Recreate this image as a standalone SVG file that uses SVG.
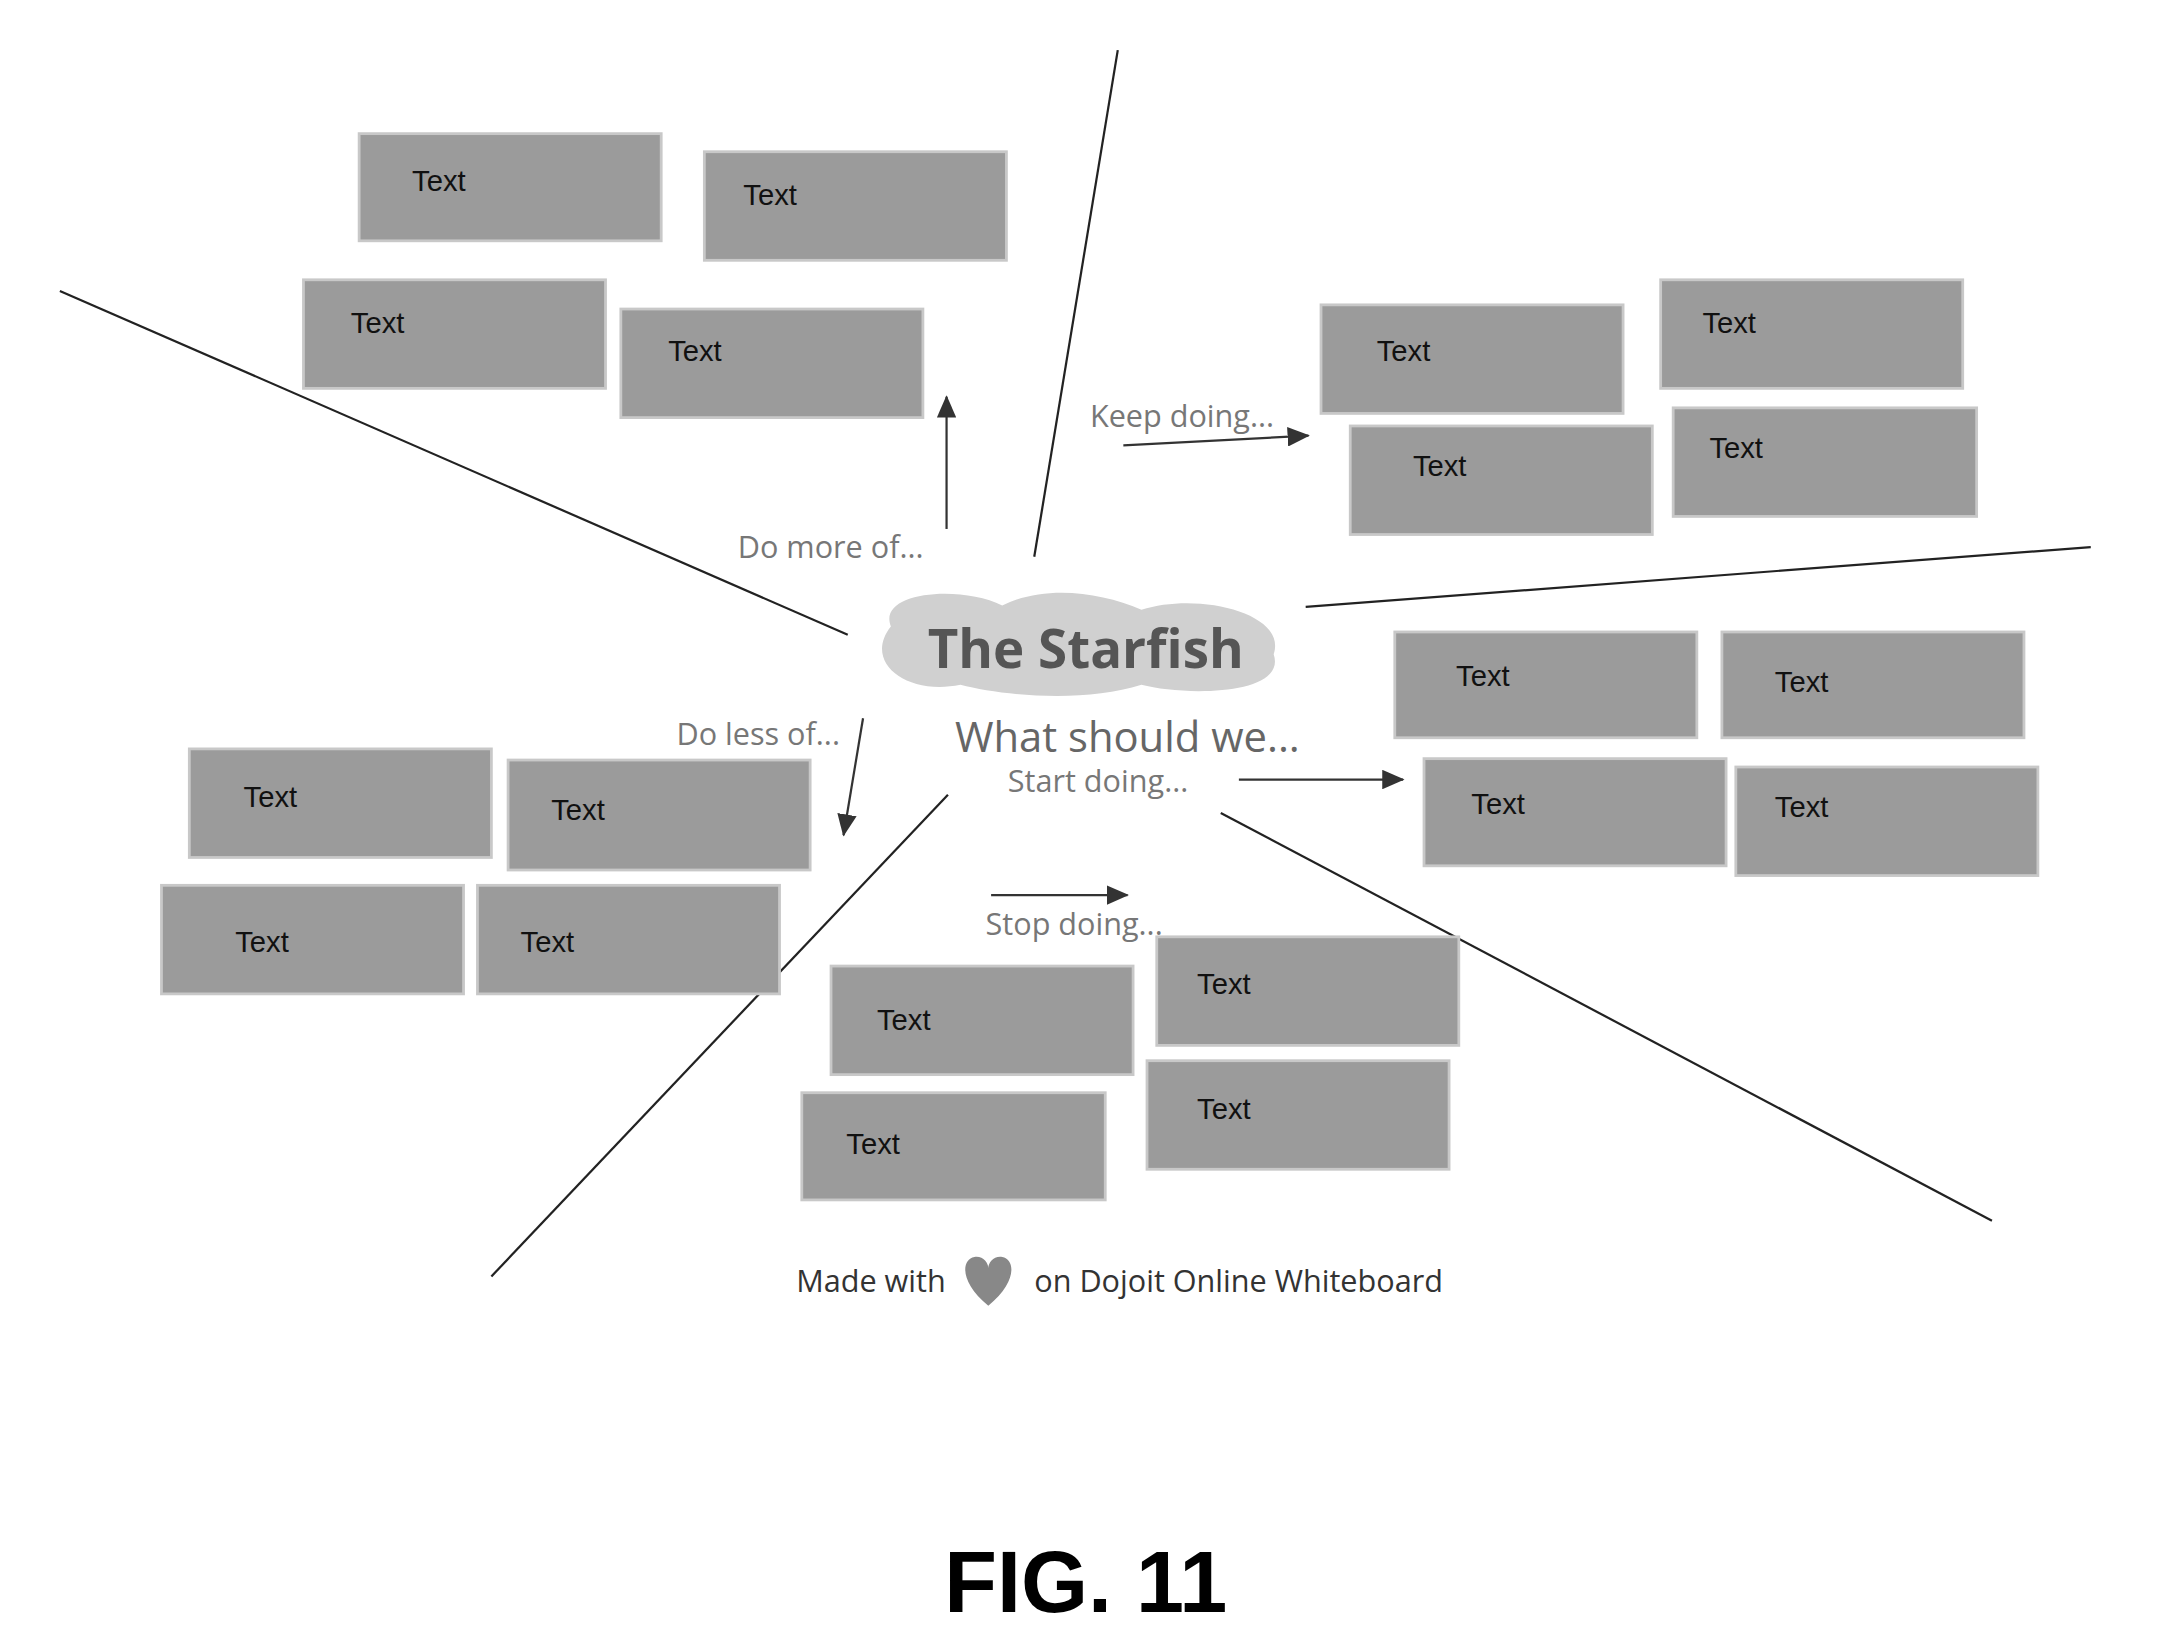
<svg xmlns="http://www.w3.org/2000/svg" width="2181" height="1637" viewBox="0 0 2181 1637">
<style>
.b{fill:#9b9b9b;stroke:#c8c8c8;stroke-width:2}
.t{font-family:"Liberation Sans",sans-serif;font-size:21px;fill:#111}
.l{stroke:#222;stroke-width:1.6;fill:none}
.a{stroke:#333;stroke-width:1.6;fill:none;marker-end:url(#ah)}
.h{font-family:"Open Sans",sans-serif;font-size:22px;fill:#777}
</style>
<defs><marker id="ah" markerWidth="16" markerHeight="14" refX="15" refY="7" orient="auto" markerUnits="userSpaceOnUse" viewBox="0 0 16 14"><path d="M0,0L16,7L0,14z" fill="#333"/></marker></defs>
<rect width="2181" height="1637" fill="#fff"/>
<g transform="scale(1.392)">
<g id="connectors">
<line class="l" x1="803" y1="36" x2="743" y2="400"/>
<line class="l" x1="43" y1="209" x2="609" y2="456"/>
<line class="l" x1="938" y1="436" x2="1502" y2="393"/>
<line class="l" x1="877" y1="584" x2="1431" y2="877"/>
<line class="l" x1="681" y1="571" x2="353" y2="917"/>
<line class="a" x1="680" y1="380" x2="680" y2="285"/>
<line class="a" x1="807" y1="320" x2="940" y2="313"/>
<line class="a" x1="620" y1="516" x2="606" y2="600"/>
<line class="a" x1="890" y1="560" x2="1008" y2="560"/>
<line class="a" x1="712" y1="643" x2="810" y2="643"/>
</g>
<g id="n1"><rect class="b" x="258" y="96" width="217" height="77"/><text class="t" x="296" y="137">Text</text></g>
<g id="n2"><rect class="b" x="506" y="109" width="217" height="78"/><text class="t" x="534" y="147">Text</text></g>
<g id="n3"><rect class="b" x="218" y="201" width="217" height="78"/><text class="t" x="252" y="239">Text</text></g>
<g id="n4"><rect class="b" x="446" y="222" width="217" height="78"/><text class="t" x="480" y="259">Text</text></g>
<g id="n5"><rect class="b" x="949" y="219" width="217" height="78"/><text class="t" x="989" y="259">Text</text></g>
<g id="n6"><rect class="b" x="1193" y="201" width="217" height="78"/><text class="t" x="1223" y="239">Text</text></g>
<g id="n7"><rect class="b" x="970" y="306" width="217" height="78"/><text class="t" x="1015" y="342">Text</text></g>
<g id="n8"><rect class="b" x="1202" y="293" width="218" height="78"/><text class="t" x="1228" y="329">Text</text></g>
<g id="n9"><rect class="b" x="1002" y="454" width="217" height="76"/><text class="t" x="1046" y="493">Text</text></g>
<g id="n10"><rect class="b" x="1237" y="454" width="217" height="76"/><text class="t" x="1275" y="497">Text</text></g>
<g id="n11"><rect class="b" x="1023" y="545" width="217" height="77"/><text class="t" x="1057" y="585">Text</text></g>
<g id="n12"><rect class="b" x="1247" y="551" width="217" height="78"/><text class="t" x="1275" y="587">Text</text></g>
<g id="n13"><rect class="b" x="136" y="538" width="217" height="78"/><text class="t" x="175" y="580">Text</text></g>
<g id="n14"><rect class="b" x="365" y="546" width="217" height="79"/><text class="t" x="396" y="589">Text</text></g>
<g id="n15"><rect class="b" x="116" y="636" width="217" height="78"/><text class="t" x="169" y="684">Text</text></g>
<g id="n16"><rect class="b" x="343" y="636" width="217" height="78"/><text class="t" x="374" y="684">Text</text></g>
<g id="n17"><rect class="b" x="597" y="694" width="217" height="78"/><text class="t" x="630" y="740">Text</text></g>
<g id="n18"><rect class="b" x="831" y="673" width="217" height="78"/><text class="t" x="860" y="714">Text</text></g>
<g id="n19"><rect class="b" x="576" y="785" width="218" height="77"/><text class="t" x="608" y="829">Text</text></g>
<g id="n20"><rect class="b" x="824" y="762" width="217" height="78"/><text class="t" x="860" y="804">Text</text></g>
<g id="labels">
<text class="h" x="530" y="401">Do more of...</text>
<text class="h" x="783" y="307">Keep doing...</text>
<text class="h" x="486" y="535">Do less of...</text>
<text class="h" x="724" y="569">Start doing...</text>
<text class="h" x="708" y="672">Stop doing...</text>
</g>
<g id="title">
<path d="M640,450 C630,425 690,420 720,435 C750,420 790,425 820,438 C860,425 925,440 915,470 C925,500 850,500 820,492 C780,505 720,500 690,492 C650,500 620,475 640,450Z" fill="#d0d0d0"/>
<text x="780" y="480" text-anchor="middle" font-family="Open Sans,sans-serif" font-size="38" font-weight="bold" fill="#555">The Starfish</text>
<text x="686" y="540" font-family="Open Sans,sans-serif" font-size="30" fill="#666">What should we...</text>
</g>
<g id="footer">
<text x="572" y="928" font-family="Open Sans,sans-serif" font-size="22" fill="#333">Made with</text>
<path d="M710,938 C690,922 690,905 700,903 C706,902 710,907 710,911 C710,907 714,902 720,903 C730,905 730,922 710,938Z" fill="#888"/>
<text x="743" y="928" font-family="Open Sans,sans-serif" font-size="22" fill="#333">on Dojoit Online Whiteboard</text>
<text x="780" y="1158" text-anchor="middle" font-family="Liberation Sans,sans-serif" font-size="62" font-weight="bold" fill="#000">FIG. 11</text>
</g>
</g>
</svg>
